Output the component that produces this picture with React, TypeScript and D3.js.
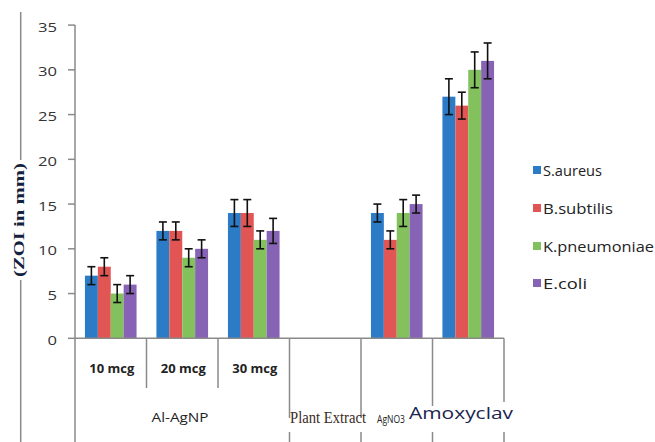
import { useEffect, useRef } from "react"
import * as d3 from "d3"

// categories (one band per tick slot on the x axis)
const categories = ["10 mcg", "20 mcg", "30 mcg", "Plant Extract", "AgNO3", "Amoxyclav"]
const seriesNames = ["S.aureus", "B.subtilis", "K.pneumoniae", "E.coli"]
const seriesColors = ["#2b7bc6", "#e25555", "#82c15c", "#8663b4"]

// values (null = no bar)
const sAureus = [7, 12, 14, null, 14, 27]
const bSubtilis = [8, 12, 14, null, 11, 26]
const kPneumoniae = [5, 9, 11, null, 14, 30]
const eColi = [6, 10, 12, null, 15, 31]

// error bar half-lengths
const sAureusErr = [1, 1, 1.5, 0, 1, 2]
const bSubtilisErr = [1, 1, 1.5, 0, 1, 1.5]
const kPneumoniaeErr = [1, 1, 1, 0, 1.5, 2]
const eColiErr = [1, 1, 1.4, 0, 1, 2]

const yTicks = [0, 5, 10, 15, 20, 25, 30, 35]

export default function App() {
  const svgRef = useRef<SVGSVGElement>(null)

  useEffect(() => {
    if (!svgRef.current) return
    document.body.style.margin = "0"
    const svg = d3.select(svgRef.current)
    svg.selectAll("*").remove()

    const left = 75
    const right = 504
    const bottom = 338.3
    const top = 25.1
    const axisColor = "#8a8a8a"
    const sans = "'Open Sans', sans-serif"

    const values = [sAureus, bSubtilis, kPneumoniae, eColi]
    const errors = [sAureusErr, bSubtilisErr, kPneumoniaeErr, eColiErr]

    const x = d3.scaleBand<string>().domain(categories).range([left, right]).padding(0)
    const xInner = d3
      .scaleBand<string>()
      .domain(seriesNames)
      .range([0, x.bandwidth()])
      .paddingInner(0)
      .paddingOuter(0.77)
    const y = d3.scaleLinear().domain([0, 35]).range([bottom, top])

    // y axis
    svg
      .append("line")
      .attr("x1", left)
      .attr("x2", left)
      .attr("y1", top)
      .attr("y2", bottom)
      .attr("stroke", axisColor)
      .attr("stroke-width", 1.5)

    yTicks.forEach((t) => {
      svg
        .append("line")
        .attr("x1", left - 7)
        .attr("x2", left)
        .attr("y1", y(t))
        .attr("y2", y(t))
        .attr("stroke", axisColor)
        .attr("stroke-width", 1.5)
      const s = String(t)
      svg
        .append("text")
        .attr("x", 57)
        .attr("y", y(t) + 1.5)
        .attr("text-anchor", "end")
        .attr("dominant-baseline", "central")
        .attr("textLength", s.length * 9.5)
        .attr("lengthAdjust", "spacingAndGlyphs")
        .attr("fill", "#333")
        .style("font-family", sans)
        .style("font-size", "13px")
        .text(s)
    })

    // y axis title with the outer line broken around it
    svg
      .append("line")
      .attr("x1", 20.7)
      .attr("x2", 20.7)
      .attr("y1", 12)
      .attr("y2", 160)
      .attr("stroke", axisColor)
      .attr("stroke-width", 1.5)
    svg
      .append("line")
      .attr("x1", 20.7)
      .attr("x2", 20.7)
      .attr("y1", 280)
      .attr("y2", 442)
      .attr("stroke", axisColor)
      .attr("stroke-width", 1.5)
    svg
      .append("text")
      .attr("transform", "translate(19,220) rotate(-90)")
      .attr("text-anchor", "middle")
      .attr("dominant-baseline", "central")
      .attr("textLength", 114)
      .attr("lengthAdjust", "spacingAndGlyphs")
      .attr("fill", "#14213d")
      .style("font-family", "'Liberation Serif', serif")
      .style("font-weight", "bold")
      .style("font-size", "14px")
      .text("(ZOI in mm)")

    // bars + error bars
    seriesNames.forEach((name, si) => {
      categories.forEach((cat, ci) => {
        const v = values[si][ci]
        if (v === null) return
        const bx = (x(cat) as number) + (xInner(name) as number)
        const bw = xInner.bandwidth()
        svg
          .append("rect")
          .attr("x", bx)
          .attr("y", y(v))
          .attr("width", bw)
          .attr("height", bottom - y(v))
          .attr("fill", seriesColors[si])
        const e = errors[si][ci]
        const cx = bx + bw / 2
        const g = svg.append("g").attr("stroke", "#111").attr("stroke-width", 1.6)
        g.append("line").attr("x1", cx).attr("x2", cx).attr("y1", y(v + e)).attr("y2", y(v - e))
        g.append("line").attr("x1", cx - 4).attr("x2", cx + 4).attr("y1", y(v + e)).attr("y2", y(v + e))
        g.append("line").attr("x1", cx - 4).attr("x2", cx + 4).attr("y1", y(v - e)).attr("y2", y(v - e))
      })
    })

    // x axis line
    svg
      .append("line")
      .attr("x1", left)
      .attr("x2", right)
      .attr("y1", bottom)
      .attr("y2", bottom)
      .attr("stroke", axisColor)
      .attr("stroke-width", 1.5)

    // category separators (multi-level axis)
    const edges = categories.map((c) => x(c) as number).concat([right])
    edges.forEach((ex, i) => {
      const segs: [number, number][] =
        i === 0
          ? [[bottom, 442]]
          : i < 3
          ? [[bottom, 388]]
          : [
              [bottom, i === 6 ? 402 : i === 5 ? 406 : 418],
              [432, 442],
            ]
      segs.forEach(([a, b]) => {
        svg
          .append("line")
          .attr("x1", ex)
          .attr("x2", ex)
          .attr("y1", a)
          .attr("y2", b)
          .attr("stroke", axisColor)
          .attr("stroke-width", 1.5)
      })
    })

    // first-level labels
    categories.slice(0, 3).forEach((c) => {
      svg
        .append("text")
        .attr("x", (x(c) as number) + x.bandwidth() / 2 + 1)
        .attr("y", 368)
        .attr("text-anchor", "middle")
        .attr("dominant-baseline", "central")
        .attr("textLength", 45)
        .attr("lengthAdjust", "spacingAndGlyphs")
        .attr("fill", "#222")
        .style("font-family", sans)
        .style("font-weight", "bold")
        .style("font-size", "13px")
        .text(c)
    })

    // second-level labels
    const lvl2 = [
      { text: "Al-AgNP", cx: 180, cy: 417, w: 57, size: 12, font: sans, fill: "#222" },
      { text: "Plant Extract", cx: 328, cy: 417, w: 76, size: 16, font: "'Liberation Serif', serif", fill: "#3a2a1e" },
      { text: "AgNO3", cx: 391, cy: 418, w: 28, size: 11, font: sans, fill: "#222" },
      { text: "Amoxyclav", cx: 461, cy: 412, w: 104, size: 17, font: sans, fill: "#1a2550" },
    ]
    lvl2.forEach((l) => {
      svg
        .append("text")
        .attr("x", l.cx)
        .attr("y", l.cy)
        .attr("text-anchor", "middle")
        .attr("dominant-baseline", "central")
        .attr("textLength", l.w)
        .attr("lengthAdjust", "spacingAndGlyphs")
        .attr("fill", l.fill)
        .style("font-family", l.font)
        .style("font-size", `${l.size}px`)
        .text(l.text)
    })

    // legend
    const legendY = [170, 208, 246, 283]
    const legendW = [59, 70, 111, 44]
    seriesNames.forEach((name, i) => {
      svg
        .append("rect")
        .attr("x", 533)
        .attr("y", legendY[i] - 4)
        .attr("width", 8)
        .attr("height", 8)
        .attr("fill", seriesColors[i])
      svg
        .append("text")
        .attr("x", 543)
        .attr("y", legendY[i])
        .attr("dominant-baseline", "central")
        .attr("textLength", legendW[i])
        .attr("lengthAdjust", "spacingAndGlyphs")
        .attr("fill", "#222")
        .style("font-family", sans)
        .style("font-size", "14px")
        .text(name)
    })
  }, [])

  return <svg ref={svgRef} width={655} height={442} style={{ display: "block", background: "#fff" }}></svg>
}
